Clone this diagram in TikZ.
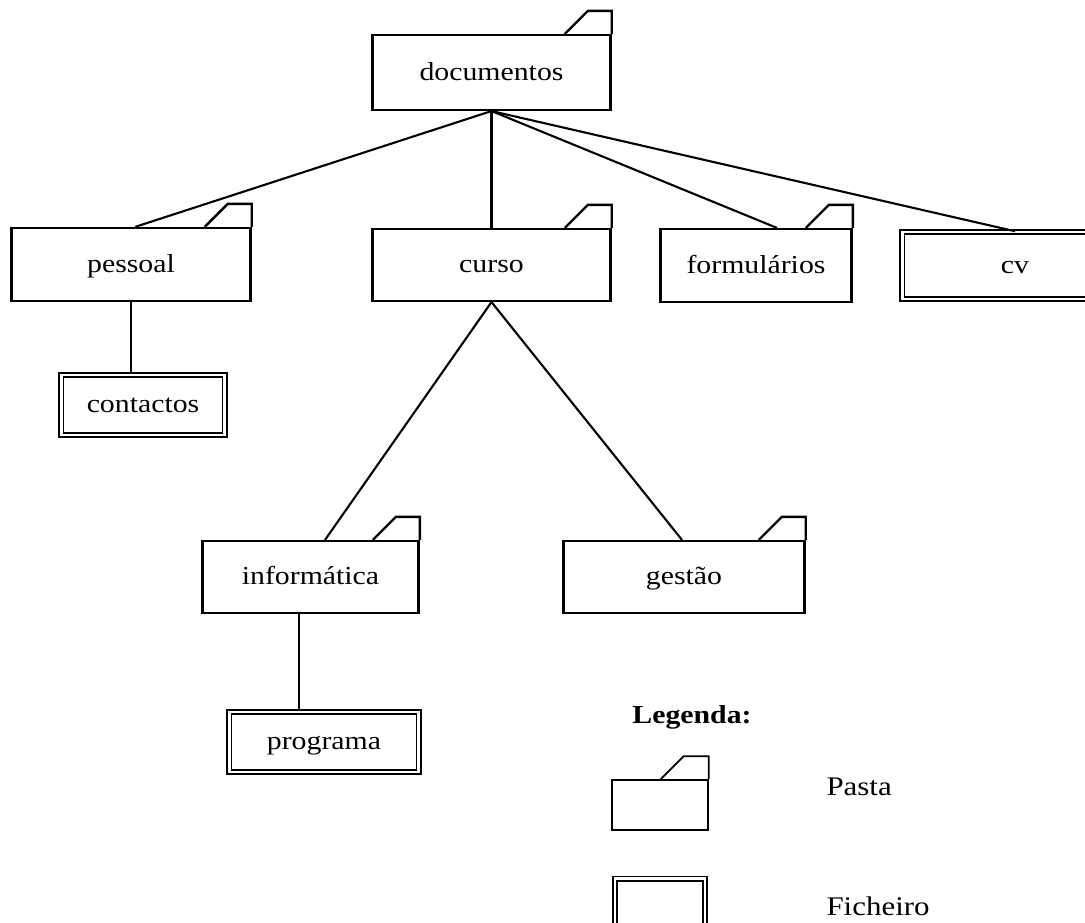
\documentclass[tikz,border=0pt]{standalone}
\usepackage{fontspec}
\setmainfont{Liberation Serif}[FakeStretch=1.15]
\usetikzlibrary{calc}

\tikzset{
  label font/.style={font=\fontsize{26}{30}\selectfont, text height=20bp, text depth=5bp},
  folder/.style={draw, line width=2.4bp, rectangle, inner sep=0pt, fill=white, label font},
  filebox/.style={draw, double, double distance=2.4bp, line width=1.8bp,
    rectangle, inner sep=0pt, label font},
  link/.style={line width=2.1bp},
  tab/.style={line width=2.4bp, line join=miter},
}

% folder tab drawn on the top right corner of a named node
\newcommand\foldertab[1]{%
  \draw[tab] ($(#1.north east)+(-47,0)$) -- ++(23,-23) -| (#1.north east);}

\begin{document}
\begin{tikzpicture}[x=1bp,y=-1bp]
  \clip (0,0) rectangle (1085,923);
  \fill[white] (0,0) rectangle (1085,923);

  % folders
  \node[folder, minimum width=239, minimum height=75] (doc) at (491.5,72.5) {documentos};
  \node[folder, minimum width=240, minimum height=73] (pes) at (131,264.5) {pessoal};
  \node[folder, minimum width=239, minimum height=72] (cur) at (491.5,265) {curso};
  \node[folder, minimum width=192, minimum height=73] (form) at (756,265.5) {formulários};
  \node[folder, minimum width=217, minimum height=72] (inf) at (310.5,577) {informática};
  \node[folder, minimum width=242, minimum height=72] (ges) at (684,577) {gestão};

  % files
  \node[filebox, minimum width=226, minimum height=67] (cv) at (1015,265.5) {cv};
  \node[filebox, minimum width=164, minimum height=60] (cont) at (143,405) {contactos};
  \node[filebox, minimum width=190, minimum height=60] (prog) at (324,742) {programa};

  \foreach \n in {doc,pes,cur,form,inf,ges} {\foldertab{\n}}

  % tree connectors
  \draw[link] (doc.south) -- ($(pes.north)+(4,0)$);
  \draw[link] (doc.south) -- (cur.north);
  \draw[link] (doc.south) -- ($(form.north)+(21,0)$);
  \draw[link] (doc.south) -- (cv.north);
  \draw[link] (pes.south) -- (pes.south |- cont.north);
  \draw[link] (cur.south) -- ($(inf.north)+(14.5,0)$);
  \draw[link] (cur.south) -- ($(ges.north)+(-2,0)$);
  \draw[link] ($(inf.south)+(-11.5,0)$) coordinate (c1) -- (c1 |- prog.north);

  % legend
  \node[font=\fontsize{26}{30}\selectfont\bfseries] (leg) at (692,717) {Legenda:};
  \node[folder, line width=1.8bp, minimum width=96, minimum height=50] (lf) at (660,805) {};
  \draw[line width=1.8bp] ($(lf.north east)+(-48,0)$) -- ++(23,-23) -| (lf.north east);
  \node[filebox, minimum width=90, minimum height=50] (lfile) at (660,903.5) {};
  \node[anchor=base west, font=\fontsize{27}{30}\selectfont] (pasta) at (823,795) {Pasta};
  \node[anchor=base west, font=\fontsize{27}{30}\selectfont] (fich) at (823,915) {Ficheiro};
\end{tikzpicture}
\end{document}
